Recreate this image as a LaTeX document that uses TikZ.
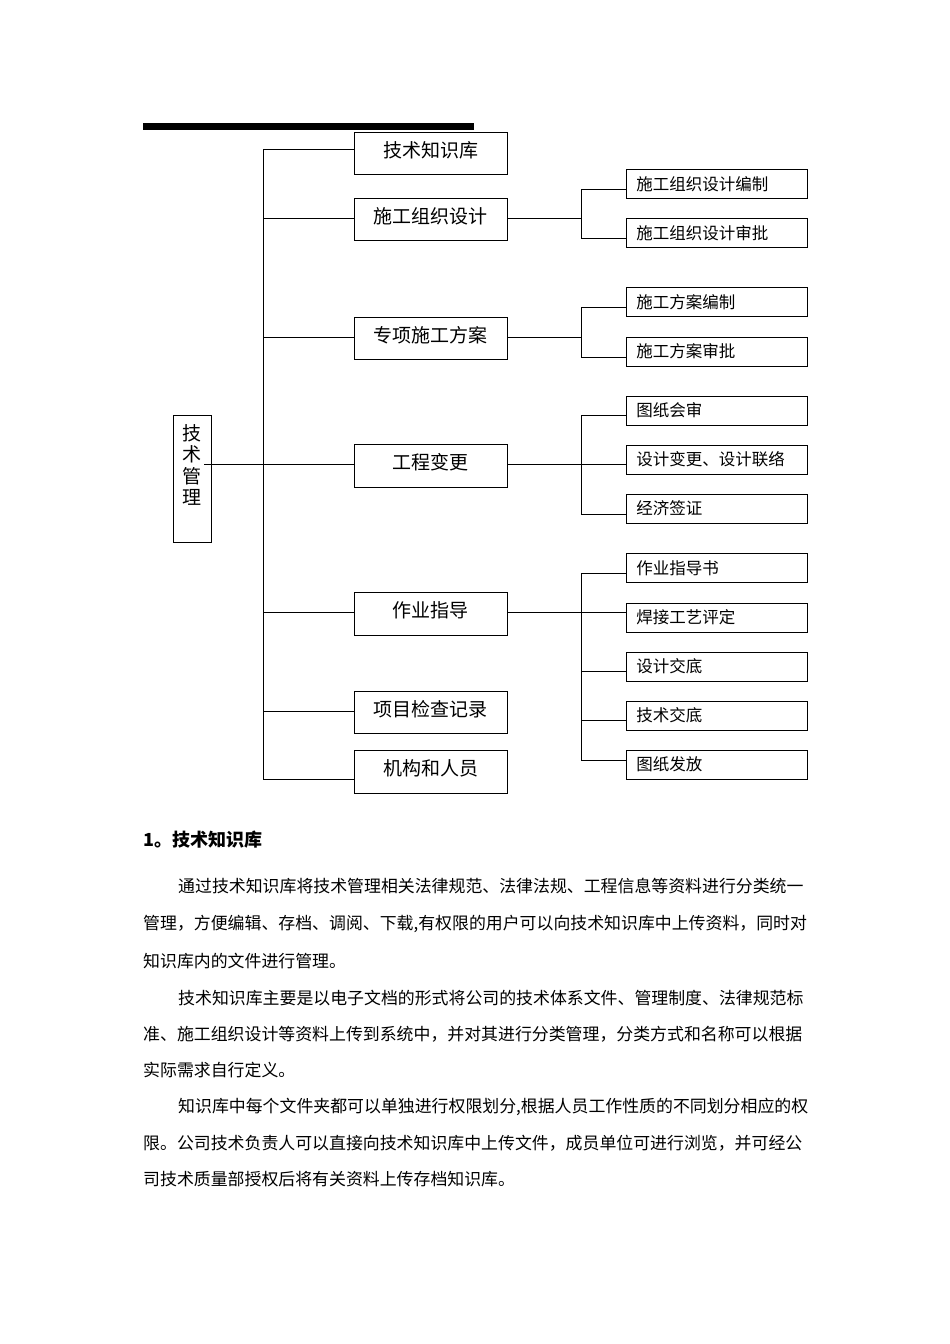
\documentclass[tikz,border=0pt]{standalone}
\usepackage{fontspec}
\newfontfamily\cjk{Noto Sans CJK SC}
\usetikzlibrary{calc}

\begin{document}
\begin{tikzpicture}[x=1pt, y=-1pt,
	link/.style={line width=0.9pt},
	mainbox/.style={draw, line width=0.9pt, minimum width=153pt, minimum height=42pt, text depth=8pt, font=\cjk\fontsize{19}{19}\selectfont},
	subbox/.style={draw, line width=0.9pt, anchor=west, inner xsep=10pt, text width=161pt, align=left, minimum height=29pt, font=\cjk\fontsize{16.5}{16.5}\selectfont},
	para/.style={anchor=west, inner sep=0pt, font=\cjk\fontsize{16.9}{16.9}\selectfont}]
		\fill[white] (0,0) rectangle (950,1344);
		\useasboundingbox (0,0) rectangle (950,1344);
		\fill (143,123) rectangle (474,130);
		\node[draw, line width=0.9pt, minimum width=38pt, minimum height=127pt] (mgmt) at (192,478.5) {};
		\node[align=center, font=\cjk\fontsize{19}{21.5}\selectfont] (mgmttext) at ($(mgmt.center)+(0,-13.5)$) {技\\术\\管\\理};
		\node[mainbox] (kb) at (430.5,153.5) {技术知识库};
		\node[mainbox] (ocd) at (430.5,219.5) {施工组织设计};
		\node[mainbox] (plan) at (430.5,338) {专项施工方案};
		\node[mainbox, minimum height=43pt] (chg) at (430.5,465.5) {工程变更};
		\node[mainbox, minimum height=43pt] (guide) at (430.5,613.5) {作业指导};
		\node[mainbox] (rec) at (430.5,712) {项目检查记录};
		\node[mainbox, minimum height=43pt] (org) at (430.5,771.5) {机构和人员};
		\node[subbox] (sA1) at (626,184) {施工组织设计编制};
		\node[subbox] (sA2) at (626,233) {施工组织设计审批};
		\node[subbox] (sB1) at (626,302) {施工方案编制};
		\node[subbox] (sB2) at (626,351.5) {施工方案审批};
		\node[subbox] (sC1) at (626,410.5) {图纸会审};
		\node[subbox] (sC2) at (626,459.5) {设计变更、设计联络};
		\node[subbox] (sC3) at (626,508.5) {经济签证};
		\node[subbox] (sD1) at (626,568) {作业指导书};
		\node[subbox] (sD2) at (626,617.5) {焊接工艺评定};
		\node[subbox] (sD3) at (626,666.5) {设计交底};
		\node[subbox] (sD4) at (626,715.5) {技术交底};
		\node[subbox] (sD5) at (626,764.5) {图纸发放};
		\draw[link] ($(mgmt.east)+(-7,-14.5)$) -- ++(60,0);
		\draw[link] ($(kb.west)+(0,-4.5)$) -- ++(-90,0) -- ($(org.west)+(-90,7.5)$) -- ($(org.west)+(0,7.5)$);
		\foreach \n/\dy in {ocd/-1.5, plan/-1, chg/-1.5, guide/-1.5, rec/-1}
			\draw[link] ($(\n.west)+(0,\dy)$) -- ++(-90,0);
		\foreach \n/\dy in {ocd/-1.5, plan/-1, chg/-1.5, guide/-1.5}
			\draw[link] ($(\n.east)+(0,\dy)$) -- ++(74,0);
		\foreach \n/\dy in {sA1/5, sA2/5, sB1/5, sB2/5.5, sC1/4.5, sC2/4.5, sC3/5.5, sD1/5, sD2/-5.5, sD3/4.5, sD4/4.5, sD5/-4.5}
			\draw[link] ($(\n.west)+(0,\dy)$) -- ++(-45,0);
		\draw[link] ($(sA1.west)+(-45,5)$) -- ($(sA2.west)+(-45,5)$);
		\draw[link] ($(sB1.west)+(-45,5)$) -- ($(sB2.west)+(-45,5.5)$);
		\draw[link] ($(sC1.west)+(-45,4.5)$) -- ($(sC3.west)+(-45,5.5)$);
		\draw[link] ($(sD1.west)+(-45,5)$) -- ($(sD5.west)+(-45,-4.5)$);
		\node[anchor=west, inner sep=0pt, font=\cjk\bfseries\fontsize{18}{18}\selectfont] (head) at (143,840) {1。技术知识库};
		\node[para] (l1) at (178,886) {通过技术知识库将技术管理相关法律规范、法律法规、工程信息等资料进行分类统一};
		\node[para] (l2) at (143,924) {管理，方便编辑、存档、调阅、下载,有权限的用户可以向技术知识库中上传资料，同时对};
		\node[para] (l3) at (143,961) {知识库内的文件进行管理。};
		\node[para] (l4) at (178,998) {技术知识库主要是以电子文档的形式将公司的技术体系文件、管理制度、法律规范标};
		\node[para] (l5) at (143,1034) {准、施工组织设计等资料上传到系统中，并对其进行分类管理，分类方式和名称可以根据};
		\node[para] (l6) at (143,1070) {实际需求自行定义。};
		\node[para] (l7) at (178,1107) {知识库中每个文件夹都可以单独进行权限划分,根据人员工作性质的不同划分相应的权};
		\node[para] (l8) at (143,1143) {限。公司技术负责人可以直接向技术知识库中上传文件，成员单位可进行浏览，并可经公};
		\node[para] (l9) at (143,1179) {司技术质量部授权后将有关资料上传存档知识库。};
	\end{tikzpicture}
\end{document}
